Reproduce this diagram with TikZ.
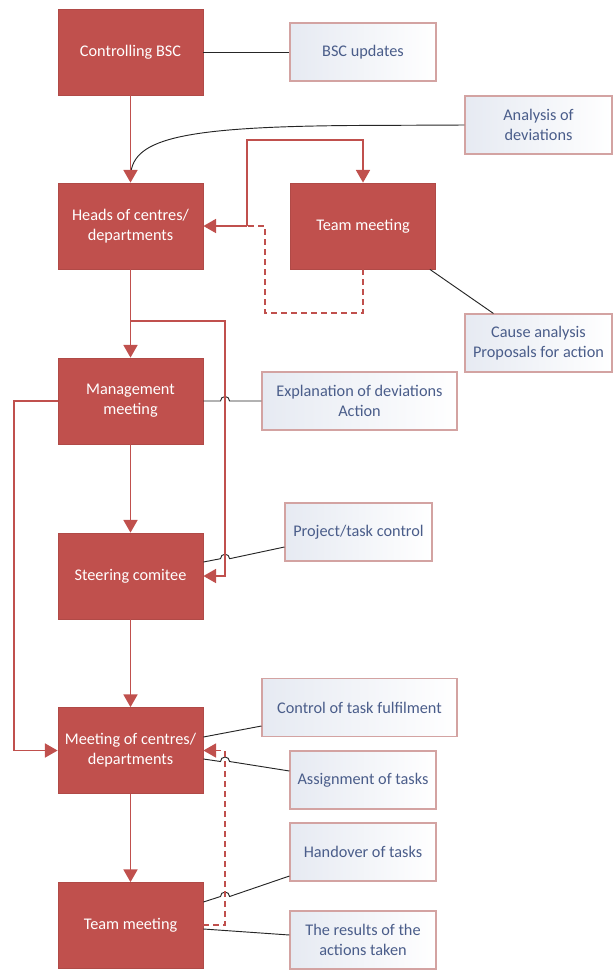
\documentclass[tikz,border=0pt]{standalone}
\usepackage{fontspec}
\setmainfont{Carlito}
\usetikzlibrary{arrows.meta,calc}
\definecolor{boxred}{HTML}{C0504D}
\definecolor{boxredline}{HTML}{B04A47}
\definecolor{calltext}{HTML}{4A5D8A}
\definecolor{callline}{HTML}{D3A3A2}
\definecolor{callfill}{HTML}{E6EAF2}
\begin{document}
\begin{tikzpicture}[x=0.75pt,y=-0.75pt,
  redbox/.style={draw=boxredline,fill=boxred,line width=0.6pt,minimum width=108.75pt,minimum height=64.5pt,
    text=white,align=center,inner sep=2pt,font=\fontsize{12.2}{15}\selectfont},
  callout/.style={draw=callline,line width=0.8pt,left color=callfill,right color=white,minimum height=43.5pt,
    text=calltext,align=center,inner sep=2pt,font=\fontsize{12.2}{15}\selectfont},
  rl/.style={draw=boxred,line width=1.3pt},
  rarrow/.style={rl,-{Triangle[length=9.5pt,width=10.5pt]}},
  bl/.style={draw=black!85,line width=0.7pt},
  rdash/.style={rl,dash pattern=on 4.5pt off 3pt}]
\useasboundingbox (0,0) rectangle (613,972);

% main boxes
\node[redbox] (cbsc) at (130.5,52) {Controlling BSC};
\node[redbox] (heads) at (130.5,226) {Heads of centres/\\departments};
\node[redbox] (team1) at (363,226) {Team meeting};
\node[redbox] (mgmt) at (130.5,401) {Management\\meeting};
\node[redbox] (steer) at (130.5,576) {Steering comitee};
\node[redbox] (meet) at (130.5,750.5) {Meeting of centres/\\departments};
\node[redbox] (team2) at (130.5,925.5) {Team meeting};

% callouts
\node[callout,minimum width=109.5pt] (bscup) at (363,52) {BSC updates};
\node[callout,minimum width=110.25pt] (anal) at (538.5,125) {Analysis of\\deviations};
\node[callout,minimum width=110.25pt] (cause) at (538.5,343) {Cause analysis\\Proposals for action};
\node[callout,minimum width=146.25pt] (expl) at (359.5,401) {Explanation of deviations\\Action};
\node[callout,minimum width=110.25pt] (proj) at (358.5,532) {Project/task control};
\node[callout,minimum width=146.25pt] (ctrl) at (359.5,707.5) {Control of task fulfilment};
\node[callout,minimum width=109.5pt] (assign) at (363,780) {Assignment of tasks};
\node[callout,minimum width=109.5pt] (hand) at (363,852) {Handover of tasks};
\node[callout,minimum width=109.5pt] (res) at (363,940) {The results of the\\actions taken};

% helper coordinates
\coordinate (j1) at (247,226);
\coordinate (k1) at (363,140);
\coordinate (k2) at (265,313);
\coordinate (j2) at (130.5,321);
\coordinate (v1) at (225,576);
\coordinate (v2) at (14,750.5);
\coordinate (v3) at (225,925);

% black connectors
\draw[bl] (cbsc.east) -- (bscup.west);
\draw[bl] (anal.west) -- (350,125.5) .. controls (175,127) and (130.5,140) .. (130.5,178);
\draw[bl] ($(team1.south east)+(-6,0)$) -- ($(cause.north west)+(29,0)$);
\draw[bl] (mgmt.east) -- (220.5,401) arc[start angle=180,end angle=0,radius=3.4pt] -- (expl.west);
\draw[bl] ($(steer.east)+(0,-14)$) -- (220.5,558.7) arc[start angle=180,end angle=0,radius=3.4pt] -- ($(proj.west)+(0,15)$);
\draw[bl] ($(meet.east)+(0,-13.5)$) -- ($(ctrl.west)+(0,18.5)$);
\draw[bl] ($(meet.east)+(0,8.5)$) -- (220.5,761.5) arc[start angle=180,end angle=0,radius=3.4pt] -- ($(assign.west)+(0,-9)$);
\draw[bl] ($(team2.east)+(0,-23.5)$) -- (220.5,896.5) arc[start angle=180,end angle=0,radius=3.4pt] -- ($(hand.west)+(0,24)$);
\draw[bl] ($(team2.east)+(0,3.5)$) -- ($(res.west)+(0,-5)$);

% red flow
\draw[rarrow] (cbsc.south) -- (heads.north);
\draw[rarrow] (heads.south) -- (mgmt.north);
\draw[rarrow] (mgmt.south) -- (steer.north);
\draw[rarrow] (steer.south) -- (meet.north);
\draw[rarrow] (meet.south) -- (team2.north);
\draw[rarrow] (j1) -- (j1|-k1) -- (k1) -- (team1.north);
\draw[rarrow] (j1) -- (heads.east);
\draw[rdash] (team1.south) |- (k2) -- (k2|-j1) -- (j1);
\draw[rarrow] (j2) -| (v1) -- (steer.east);
\draw[rarrow] (mgmt.west) -| (v2) -- (meet.west);
\draw[rdash] ($(team2.east)+(0,-0.5)$) -- (v3) -- (v3|-meet.east) -- ($(meet.east)+(12,0)$);
\draw[rarrow] ($(meet.east)+(13,0)$) -- (meet.east);
\end{tikzpicture}
\end{document}
